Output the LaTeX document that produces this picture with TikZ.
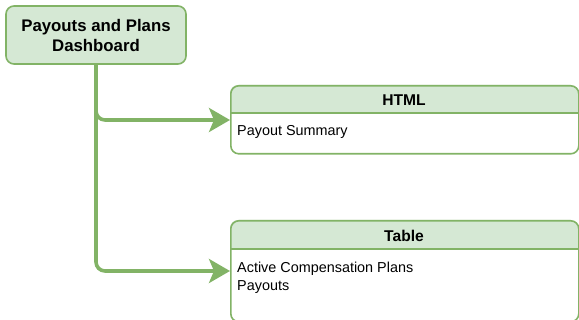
\documentclass[tikz,border=0pt]{standalone}
\usepackage{fontspec}
\setmainfont{Liberation Sans}
\usetikzlibrary{arrows.meta}
\definecolor{leaf}{HTML}{D5E8D4}
\definecolor{stem}{HTML}{82B366}
\tikzset{
  rootbox/.style={draw=stem, fill=leaf, line width=1.6pt, rounded corners=8pt,
    minimum width=180pt, minimum height=58pt, align=center, inner sep=0pt,
    font=\fontsize{16.8}{20}\selectfont\bfseries},
  panel/.style={draw=stem, line width=1.6pt, rounded corners=8pt, anchor=north west, inner sep=0pt},
  headtext/.style={font=\fontsize{15.6}{18}\selectfont\bfseries, inner sep=0pt},
  bodytext/.style={font=\fontsize{14.4}{18}\selectfont, align=left, inner sep=0pt},
  link/.style={draw=stem, line width=3.6pt, rounded corners=9pt,
    -{Stealth[length=21pt, width=24pt, inset=5pt]}},
}
\begin{document}
\begin{tikzpicture}[x=1pt, y=-1pt]
\useasboundingbox (0,0) rectangle (579,320);

% root node
\node[rootbox] (root) at (96,35) {Payouts and Plans\\Dashboard};

% HTML panel
\fill[white, rounded corners=8pt] (230,85) rectangle (578,153);
\begin{scope}
  \clip (228,83) rectangle (580,113);
  \fill[leaf, rounded corners=8pt] (230,85) rectangle (578,153);
\end{scope}
\draw[stem, line width=1.6pt] (230,113) -- (578,113);
\node[panel, minimum width=348pt, minimum height=68pt] (html) at (230,85) {};
\node[headtext] (htmlhead) at (404,100) {HTML};
\node[bodytext, anchor=west] (htmlbody) at (237,132) {Payout Summary};

% Table panel
\fill[white, rounded corners=8pt] (230,220) rectangle (578,321);
\begin{scope}
  \clip (228,218) rectangle (580,249);
  \fill[leaf, rounded corners=8pt] (230,220) rectangle (578,321);
\end{scope}
\draw[stem, line width=1.6pt] (230,249) -- (578,249);
\node[panel, minimum width=348pt, minimum height=101pt] (table) at (230,220) {};
\node[headtext] (tablehead) at (404,236) {Table};
\node[bodytext, anchor=north west] (tablebody) at (237,262) {Active Compensation Plans\\Payouts};

% connectors
\coordinate (htmlin) at (html.west |- 0,120);
\coordinate (tablein) at (table.west |- 0,271);
\draw[link] (root.south) |- (htmlin);
\draw[link] (root.south) |- (tablein);
\end{tikzpicture}
\end{document}
